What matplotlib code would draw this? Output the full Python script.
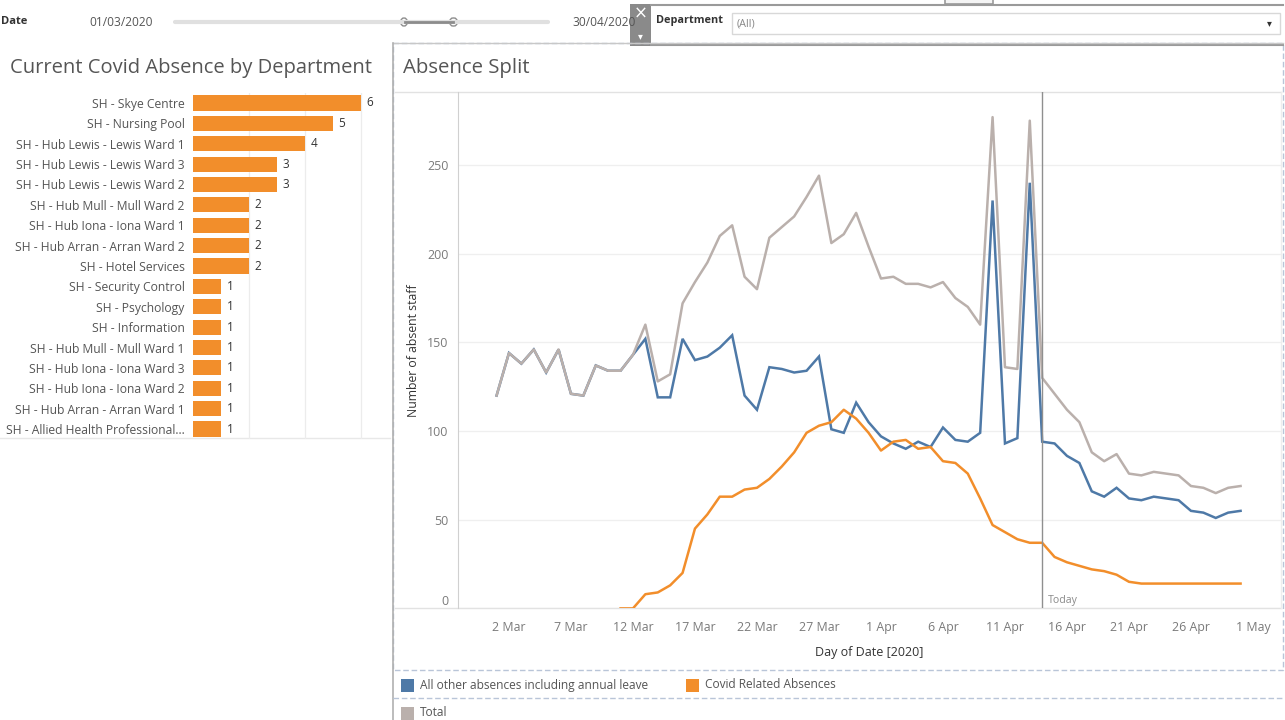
import datetime as dt
import matplotlib
matplotlib.use("Agg")
import matplotlib.pyplot as plt
import matplotlib.dates as mdates
from matplotlib.patches import Rectangle, FancyBboxPatch
from matplotlib.lines import Line2D

plt.rcParams['font.family'] = ['Open Sans', 'DejaVu Sans']

# ---------------- data ----------------
departments = [
    "SH - Skye Centre", "SH - Nursing Pool", "SH - Hub Lewis - Lewis Ward 1",
    "SH - Hub Lewis - Lewis Ward 3", "SH - Hub Lewis - Lewis Ward 2",
    "SH - Hub Mull - Mull Ward 2", "SH - Hub Iona - Iona Ward 1",
    "SH - Hub Arran - Arran Ward 2", "SH - Hotel Services", "SH - Security Control",
    "SH - Psychology", "SH - Information", "SH - Hub Mull - Mull Ward 1",
    "SH - Hub Iona - Iona Ward 3", "SH - Hub Iona - Iona Ward 2",
    "SH - Hub Arran - Arran Ward 1", "SH - Allied Health Professional...",
]
covid_by_dept = [6, 5, 4, 3, 3, 2, 2, 2, 2, 1, 1, 1, 1, 1, 1, 1, 1]

start_date = dt.date(2020, 3, 1)
n_days = 61  # 1 Mar .. 30 Apr
today = dt.date(2020, 4, 14)

total = [120, 144, 138, 146, 133, 146, 121, 120, 137, 134, 134, 143, 160, 128, 132,
         172, 184, 195, 210, 216, 187, 180, 209, 215, 221, 232, 244, 206, 211, 223,
         204, 186, 187, 183, 183, 181, 184, 175, 170, 160, 277, 136, 135, 275, 130,
         121, 112, 105, 88, 83, 87, 76, 75, 77, 76, 75, 69, 68, 65, 68, 69]
other = [120, 144, 138, 146, 133, 146, 121, 120, 137, 134, 134, 143, 152, 119, 119,
         152, 140, 142, 147, 154, 120, 112, 136, 135, 133, 134, 142, 101, 99, 116,
         105, 97, 93, 90, 94, 91, 102, 95, 94, 99, 230, 93, 96, 240, 94,
         93, 86, 82, 66, 63, 68, 62, 61, 63, 62, 61, 55, 54, 51, 54, 55]
covid = [None] * 10 + [0, 0, 8, 9, 13, 20, 45, 53, 63, 63, 67, 68, 73, 80, 88,
         99, 103, 105, 112, 107, 99, 89, 94, 95, 90, 91, 83, 82, 76, 62,
         47, 43, 39, 37, 37, 29, 26, 24, 22, 21, 19, 15, 14, 14, 14,
         14, 14, 14, 14, 14, 14]

series_names = ["All other absences including annual leave", "Covid Related Absences", "Total"]
series_colors = ["#4e79a7", "#f28e2b", "#bab0ac"]

# ---------------- figure ----------------
W, H = 1285, 720
fig = plt.figure(figsize=(W / 100, H / 100), dpi=100)
fig.patch.set_facecolor("white")


def rect(x0, y0, x1, y1):
    return [x0 / W, 1 - y1 / H, (x1 - x0) / W, (y1 - y0) / H]


# overlay in pixel coordinates for the dashboard furniture
ov = fig.add_axes([0, 0, 1, 1])
ov.set_xlim(0, W)
ov.set_ylim(H, 0)
ov.axis("off")

TXT = "#555555"

# date slider
ov.text(1, 22, "Date", fontsize=8, fontweight="bold", color="#333333", va="center")
ov.text(89, 23, "01/03/2020", fontsize=8.6, color=TXT, va="center")
ov.text(572, 23, "30/04/2020", fontsize=8.6, color=TXT, va="center")
ov.add_line(Line2D([175, 548], [22, 22], color="#e0e0e0", lw=3, solid_capstyle="round"))
ov.add_line(Line2D([405, 453], [22, 22], color="#8c8c8c", lw=2))
ov.add_patch(FancyBboxPatch((401, 18), 6, 8, boxstyle="round,pad=0,rounding_size=3",
                            fc="white", ec="#8c8c8c", lw=1))
ov.add_patch(FancyBboxPatch((450, 18), 7, 8, boxstyle="round,pad=0,rounding_size=3",
                            fc="white", ec="#8c8c8c", lw=1))

# close / menu buttons
ov.add_patch(Rectangle((630, 4), 21, 42, fc="#8a8a8a", ec="none"))
ov.text(640.5, 14, "×", fontsize=12, color="white", ha="center", va="center",
        family=["DejaVu Sans"])
ov.text(640.5, 36, "▾", fontsize=7, color="white", ha="center", va="center",
        family=["DejaVu Sans"])
ov.add_patch(Rectangle((945, -2), 48, 6, fc="#f4f4f4", ec="#9a9a9a", lw=1.2))

# department filter
ov.add_line(Line2D([651, 1283], [5, 5], color="#9a9a9a", lw=1.5))
ov.add_line(Line2D([651, 1283], [45, 45], color="#9a9a9a", lw=1.5))
ov.text(656, 21, "Department", fontsize=7.8, fontweight="bold", color="#333333", va="center")
ov.add_patch(Rectangle((732, 13), 548, 21, fc="white", ec="#d8d8d8", lw=1))
ov.text(737, 24, "(All)", fontsize=7.8, color="#888888", va="center")
ov.text(1269, 23, "▾", fontsize=7, color="#333333", ha="center", va="center",
        family=["DejaVu Sans"])

# panel titles
ov.text(10, 68, "Current Covid Absence by Department", fontsize=14.5, color=TXT, va="center")
ov.text(403, 68, "Absence Split", fontsize=14.7, color=TXT, va="center")

# panel frames
ov.add_line(Line2D([0, 390], [438, 438], color="#e8e8e8", lw=1))
ov.add_patch(Rectangle((393, 43), 890, 627, fc="none", ec="#b9c5d8", lw=1, ls=(0, (4, 2))))
ov.add_line(Line2D([393, 1283], [43, 43], color="#c8c8c8", lw=1))
ov.add_line(Line2D([393, 393], [43, 720], color="#b0b0b0", lw=1.2))
ov.add_line(Line2D([393, 1283], [698, 698], color="#b9c5d8", lw=1, ls=(0, (4, 2))))
ov.add_line(Line2D([395, 1281], [92, 92], color="#e2e2e2", lw=1))
ov.add_line(Line2D([395, 1281], [608.4, 608.4], color="#e2e2e2", lw=1))
ov.add_line(Line2D([1281, 1281], [92, 608.4], color="#eeeeee", lw=1))

# legend
legend_pos = [(401, 685), (686, 685), (401, 713)]
for (lx, ly), name, col in zip(legend_pos, series_names, series_colors):
    ov.add_patch(Rectangle((lx, ly - 6.5), 13, 13, fc=col, ec="none"))
    ov.text(lx + 19, ly, name, fontsize=8.6, color=TXT, va="center")

# ---------------- bar chart ----------------
axL = fig.add_axes(rect(193, 92.8, 390, 439.2))
axL.set_facecolor("none")
ypos = list(range(len(departments)))
bars = axL.barh(ypos, covid_by_dept, height=0.74, color="#f28e2b", zorder=2)
axL.set_ylim(len(departments) - 0.5, -0.5)
axL.set_xlim(0, 197 / 28)
for g in (2, 4, 6):
    axL.axvline(g, color="#ececec", lw=0.9, zorder=0)
axL.set_yticks(ypos)
axL.set_yticklabels(departments, fontsize=8.7, color=TXT)
axL.tick_params(axis="y", length=0, pad=6)
axL.set_xticks([])
for s in axL.spines.values():
    s.set_visible(False)
axL.bar_label(bars, labels=[str(v) for v in covid_by_dept], padding=4,
              fontsize=8.5, color="#333333")

# ---------------- line chart ----------------
dates = [start_date + dt.timedelta(days=i) for i in range(n_days)]
x = mdates.date2num(dates)
base = mdates.date2num(start_date)

axR = fig.add_axes(rect(458, 92.3, 1281, 608.4))
axR.set_facecolor("none")
axR.plot(x, other, color=series_colors[0], lw=1.8, zorder=3, solid_joinstyle="miter")
cx = [xi for xi, v in zip(x, covid) if v is not None]
cv = [v for v in covid if v is not None]
axR.plot(cx, cv, color=series_colors[1], lw=1.8, zorder=3)
axR.plot(x, total, color=series_colors[2], lw=1.8, zorder=4)

axR.set_xlim(base - 3.11, base + 63.26)
axR.set_ylim(0, 291)
axR.set_yticks([0, 50, 100, 150, 200, 250])
axR.yaxis.grid(True, color="#efefef", lw=0.9)
axR.set_axisbelow(True)
tick_dates = [dt.date(2020, 3, 2) + dt.timedelta(days=5 * k) for k in range(13)]
axR.set_xticks(mdates.date2num(tick_dates))
axR.set_xticklabels([f"{d.day} {d.strftime('%b')}" for d in tick_dates])
axR.tick_params(axis="both", length=0, labelsize=8.9, labelcolor="#7a7a7a")
axR.tick_params(axis="x", pad=9)
axR.tick_params(axis="y", pad=7)
axR.get_yticklabels()[0].set_verticalalignment("bottom")
for name, s in axR.spines.items():
    s.set_visible(name == "left")
axR.spines["left"].set_color("#d0d0d0")
axR.set_ylabel("Number of absent staff", fontsize=8.8, color="#333333", labelpad=5)
axR.set_xlabel("Day of Date [2020]", fontsize=9, color="#333333", labelpad=9)

t = mdates.date2num(today)
axR.axvline(t, color="#8f8f8f", lw=1, zorder=5)
axR.annotate("Today", xy=(t, 0), xytext=(4, 6), textcoords="offset points",
             fontsize=7.6, color="#8a8a8a", va="center")

fig.savefig("out.png", dpi=100, facecolor="white")
